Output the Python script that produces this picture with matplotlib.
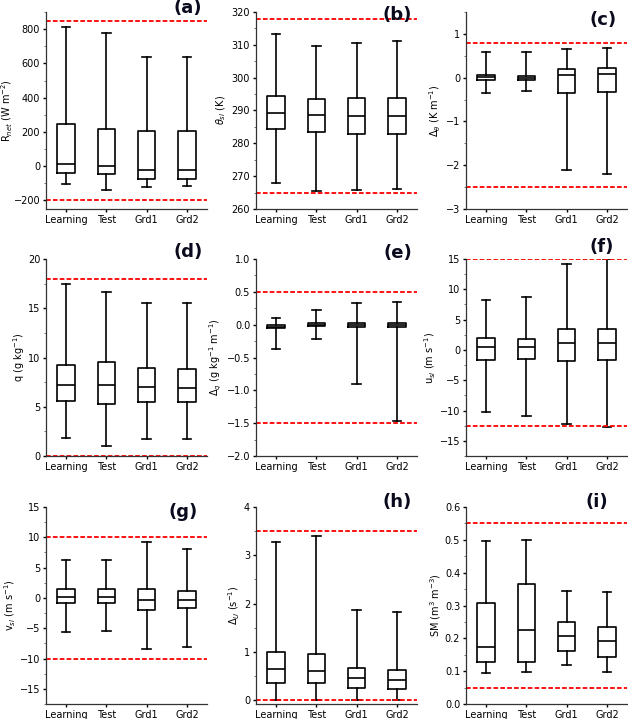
import matplotlib
matplotlib.use("Agg")
import matplotlib.pyplot as plt
from matplotlib.ticker import MultipleLocator

categories = ["Learning", "Test", "Grd1", "Grd2"]

# per panel: whisker low, q1, median, q3, whisker high (one entry per category)
rnet_lo = [-105, -141, -122, -118]
rnet_q1 = [-41, -43, -76, -74]
rnet_med = [12, 2, -23, -21]
rnet_q3 = [248, 217, 207, 205]
rnet_hi = [815, 779, 640, 638]

theta_lo = [267.8, 265.6, 265.9, 266.2]
theta_q1 = [284.3, 283.3, 282.7, 282.7]
theta_med = [289.2, 288.5, 288.2, 288.2]
theta_q3 = [294.3, 293.6, 293.8, 293.8]
theta_hi = [313.2, 309.5, 310.5, 311.3]

dtheta_lo = [-0.36, -0.30, -2.11, -2.20]
dtheta_q1 = [-0.06, -0.05, -0.34, -0.32]
dtheta_med = [0.01, 0.0, 0.07, 0.08]
dtheta_q3 = [0.05, 0.04, 0.20, 0.22]
dtheta_hi = [0.59, 0.58, 0.66, 0.68]

q_lo = [1.8, 1.0, 1.7, 1.7]
q_q1 = [5.6, 5.3, 5.5, 5.5]
q_med = [7.2, 7.2, 7.0, 6.9]
q_q3 = [9.2, 9.5, 8.9, 8.8]
q_hi = [17.5, 16.6, 15.5, 15.5]

dq_lo = [-0.37, -0.22, -0.91, -1.46]
dq_q1 = [-0.05, -0.02, -0.03, -0.03]
dq_med = [-0.03, 0.0, 0.0, 0.0]
dq_q3 = [0.0, 0.03, 0.02, 0.02]
dq_hi = [0.10, 0.22, 0.33, 0.35]

u_lo = [-10.3, -10.9, -12.3, -12.7]
u_q1 = [-1.6, -1.5, -1.9, -1.6]
u_med = [0.5, 0.4, 1.1, 1.2]
u_q3 = [2.0, 1.8, 3.4, 3.4]
u_hi = [8.2, 8.8, 14.1, 15.0]

v_lo = [-5.6, -5.4, -8.4, -8.1]
v_q1 = [-0.8, -0.8, -2.0, -1.7]
v_med = [0.1, 0.2, -0.4, -0.4]
v_q3 = [1.4, 1.4, 1.5, 1.2]
v_hi = [6.2, 6.3, 9.3, 8.1]

dU_lo = [0.0, 0.0, 0.0, 0.0]
dU_q1 = [0.36, 0.35, 0.26, 0.24]
dU_med = [0.64, 0.60, 0.45, 0.41]
dU_q3 = [1.0, 0.96, 0.66, 0.62]
dU_hi = [3.27, 3.39, 1.87, 1.82]

sm_lo = [0.093, 0.096, 0.120, 0.098]
sm_q1 = [0.127, 0.128, 0.160, 0.142]
sm_med = [0.173, 0.225, 0.207, 0.191]
sm_q3 = [0.307, 0.367, 0.249, 0.236]
sm_hi = [0.495, 0.498, 0.343, 0.341]

# threshold lines (upper, lower)
limits = {
    "a": (850, -200), "b": (318, 265), "c": (0.8, -2.5),
    "d": (18, 0), "e": (0.5, -1.5), "f": (15, -12.5),
    "g": (10, -10), "h": (3.5, 0), "i": (0.55, 0.05),
}

ylabels = {
    "a": r"R$_{net}$ (W m$^{-2}$)",
    "b": r"$\theta_{sl}$ (K)",
    "c": r"$\Delta_{\theta}$ (K m$^{-1}$)",
    "d": r"q (g kg$^{-1}$)",
    "e": r"$\Delta_{q}$ (g kg$^{-1}$ m$^{-1}$)",
    "f": r"u$_{sl}$ (m s$^{-1}$)",
    "g": r"v$_{sl}$ (m s$^{-1}$)",
    "h": r"$\Delta_{U}$ (s$^{-1}$)",
    "i": r"SM (m$^{3}$ m$^{-3}$)",
}

data = {
    "a": (rnet_lo, rnet_q1, rnet_med, rnet_q3, rnet_hi),
    "b": (theta_lo, theta_q1, theta_med, theta_q3, theta_hi),
    "c": (dtheta_lo, dtheta_q1, dtheta_med, dtheta_q3, dtheta_hi),
    "d": (q_lo, q_q1, q_med, q_q3, q_hi),
    "e": (dq_lo, dq_q1, dq_med, dq_q3, dq_hi),
    "f": (u_lo, u_q1, u_med, u_q3, u_hi),
    "g": (v_lo, v_q1, v_med, v_q3, v_hi),
    "h": (dU_lo, dU_q1, dU_med, dU_q3, dU_hi),
    "i": (sm_lo, sm_q1, sm_med, sm_q3, sm_hi),
}

# axis settings: ylim, major step, minor step
axcfg = {
    "a": ((-250, 900), 200, 100),
    "b": ((260, 320), 10, 5),
    "c": ((-3, 1.5), 1, 0.5),
    "d": ((0, 20), 5, 2.5),
    "e": ((-2, 1), 0.5, 0.25),
    "f": ((-17.5, 15), 5, 2.5),
    "g": ((-17.5, 15), 5, 2.5),
    "h": ((-0.08, 4), 1, 0.5),
    "i": ((0, 0.6), 0.1, 0.05),
}

label_pos = {
    "a": (0.88, 1.02), "b": (0.88, 0.985), "c": (0.85, 0.96),
    "d": (0.88, 1.035), "e": (0.88, 1.03), "f": (0.84, 1.06),
    "g": (0.85, 0.975), "h": (0.875, 1.025), "i": (0.81, 1.025),
}

ylabel_x = {
    "a": -0.195, "b": -0.174, "c": -0.143,
    "d": -0.118, "e": -0.2, "f": -0.174,
    "g": -0.174, "h": -0.087, "i": -0.143,
}

W, H = 628, 719
fig = plt.figure(figsize=(W / 100, H / 100), dpi=100)

col_left = [46, 256, 466]
row_bottom = [209, 456, 704]
aw, ah = 161, 197

keys = list("abcdefghi")
for idx, k in enumerate(keys):
    r, c = divmod(idx, 3)
    ax = fig.add_axes([col_left[c] / W, 1 - row_bottom[r] / H, aw / W, ah / H])
    lo, q1, med, q3, hi = data[k]
    stats = []
    for j in range(len(categories)):
        stats.append(dict(whislo=lo[j], q1=q1[j], med=med[j], q3=q3[j],
                          whishi=hi[j], fliers=[], label=categories[j]))
    lp = dict(color="black", linewidth=1.2)
    ax.bxp(stats, positions=[1, 2, 3, 4], widths=0.43, showfliers=False,
           boxprops=lp, whiskerprops=lp, capprops=lp,
           medianprops=dict(color="black", linewidth=1.2))
    up, dn = limits[k]
    ax.axhline(up, color="red", linestyle="--", linewidth=1.3, dashes=(2.6, 1.2))
    ax.axhline(dn, color="red", linestyle="--", linewidth=1.3, dashes=(2.6, 1.2))
    ylim, major, minor = axcfg[k]
    ax.set_ylim(*ylim)
    ax.set_xlim(0.5, 4.5)
    ax.yaxis.set_major_locator(MultipleLocator(major))
    ax.yaxis.set_minor_locator(MultipleLocator(minor))
    ax.spines["top"].set_visible(False)
    ax.spines["right"].set_visible(False)
    for s in ("left", "bottom"):
        ax.spines[s].set_linewidth(0.9)
        ax.spines[s].set_color("#333333")
    ax.tick_params(axis="both", which="major", labelsize=7, length=2.2,
                   width=1, pad=2)
    ax.tick_params(axis="y", which="minor", length=1.6, width=0.7,
                   color="#777777")
    ax.set_xticks([1, 2, 3, 4])
    ax.set_xticklabels(categories, fontsize=7)
    ax.set_ylabel(ylabels[k], fontsize=7)
    ax.yaxis.set_label_coords(ylabel_x[k], 0.5)
    lx, ly = label_pos[k]
    ax.text(lx, ly, f"({k})", transform=ax.transAxes, fontsize=13,
            fontweight="bold", ha="center", va="center", color="#0a0a1e")

fig.savefig("out.png", dpi=100)
